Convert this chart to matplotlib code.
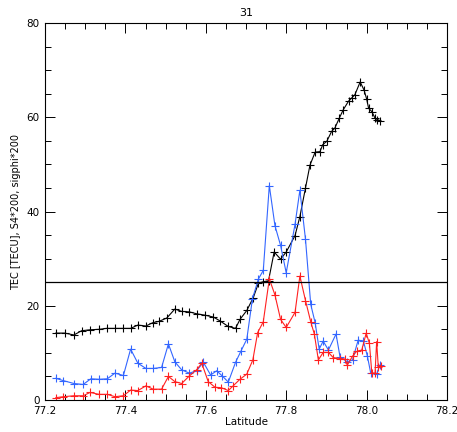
import numpy as np
import matplotlib.pyplot as plt
from matplotlib.ticker import MultipleLocator

# TEC (black)
lat_tec = [77.227, 77.249, 77.272, 77.291, 77.312, 77.335, 77.353, 77.374, 77.393, 77.413,
           77.431, 77.451, 77.468, 77.484, 77.503, 77.523, 77.540, 77.559, 77.577, 77.598,
           77.619, 77.635, 77.656, 77.674, 77.685, 77.702, 77.718, 77.731, 77.743, 77.756,
           77.770, 77.786, 77.800, 77.822, 77.834, 77.848, 77.859, 77.872, 77.884, 77.891,
           77.901, 77.913, 77.921, 77.932, 77.942, 77.955, 77.963, 77.971, 77.984, 77.994,
           78.000, 78.005, 78.013, 78.021, 78.027, 78.033]
tec = [14.2, 14.2, 13.8, 14.7, 14.9, 15.0, 15.2, 15.2, 15.2, 15.2,
       15.9, 15.7, 16.4, 16.7, 17.4, 19.3, 18.8, 18.7, 18.3, 18.0,
       17.6, 16.8, 15.6, 15.2, 17.1, 19.0, 21.7, 24.8, 25.1, 25.3,
       31.4, 29.9, 31.4, 34.9, 38.9, 45.0, 49.8, 52.6, 52.7, 54.2,
       54.9, 57.0, 57.7, 59.8, 61.6, 63.4, 64.1, 64.8, 67.5, 65.7,
       63.9, 61.9, 61.2, 59.8, 59.5, 59.3]

# S4*200 (blue)
lat_s4 = [77.227, 77.246, 77.272, 77.295, 77.314, 77.335, 77.355, 77.374, 77.395, 77.413,
          77.431, 77.451, 77.469, 77.490, 77.507, 77.523, 77.540, 77.559, 77.577, 77.594,
          77.612, 77.627, 77.641, 77.656, 77.674, 77.687, 77.702, 77.716, 77.731, 77.743,
          77.758, 77.772, 77.786, 77.800, 77.822, 77.834, 77.848, 77.861, 77.872, 77.882,
          77.892, 77.905, 77.924, 77.934, 77.952, 77.965, 77.979, 77.992, 78.002, 78.010,
          78.025, 78.033]
s4 = [4.6, 4.1, 3.5, 3.3, 4.5, 4.4, 4.5, 5.7, 5.2, 10.8,
      7.8, 6.7, 6.7, 6.9, 11.9, 8.1, 6.4, 5.7, 6.2, 8.0,
      5.3, 6.2, 5.1, 3.8, 8.0, 10.3, 12.9, 21.5, 25.7, 27.5,
      45.5, 37.0, 32.8, 27.0, 37.3, 44.5, 34.1, 20.3, 16.4, 10.8,
      12.5, 10.6, 14.0, 9.1, 8.1, 8.5, 12.7, 12.5, 9.3, 5.8,
      5.5, 7.4]

# sigphi*200 (red)
lat_sp = [77.227, 77.246, 77.272, 77.295, 77.312, 77.335, 77.355, 77.374, 77.395, 77.413,
          77.431, 77.451, 77.469, 77.490, 77.507, 77.523, 77.540, 77.559, 77.577, 77.590,
          77.606, 77.623, 77.639, 77.656, 77.668, 77.685, 77.702, 77.717, 77.729, 77.743,
          77.758, 77.772, 77.786, 77.800, 77.822, 77.834, 77.848, 77.861, 77.870, 77.880,
          77.892, 77.905, 77.917, 77.934, 77.946, 77.952, 77.965, 77.975, 77.988, 77.999,
          78.007, 78.013, 78.021, 78.025, 78.029, 78.035]
sigphi = [0.5, 0.7, 0.9, 0.9, 1.6, 1.2, 1.2, 0.7, 0.9, 2.1,
          2.0, 3.0, 2.3, 2.3, 5.0, 3.9, 3.5, 5.1, 6.4, 7.8,
          3.9, 2.7, 2.6, 2.0, 3.0, 4.4, 5.5, 8.5, 14.3, 16.6,
          25.7, 22.3, 17.1, 15.4, 18.6, 26.3, 21.1, 16.6, 14.0, 8.5,
          10.1, 10.1, 9.0, 8.8, 8.7, 7.4, 9.3, 10.3, 10.6, 14.2,
          12.0, 5.7, 5.7, 12.4, 7.1, 7.3]

threshold = 25

fig = plt.figure(figsize=(4.57, 4.32), dpi=100)
ax = fig.add_axes([45/457, 1 - 400/432, 402/457, 377/432])

ax.plot(lat_tec, tec, color='black', lw=0.8, marker='+', ms=6, mew=0.8)
ax.plot(lat_s4, s4, color='#3366ff', lw=0.8, marker='+', ms=6, mew=0.8)
ax.plot(lat_sp, sigphi, color='#ff2020', lw=0.8, marker='+', ms=6, mew=0.8)
ax.axhline(threshold, color='black', lw=0.9)

ax.set_xlim(77.2, 78.2)
ax.set_ylim(0, 80)
ax.xaxis.set_major_locator(MultipleLocator(0.2))
ax.xaxis.set_minor_locator(MultipleLocator(0.05))
ax.yaxis.set_major_locator(MultipleLocator(20))
ax.yaxis.set_minor_locator(MultipleLocator(5))
ax.xaxis.set_major_formatter(plt.FuncFormatter(lambda v, p: f'{v:.1f}'))
ax.tick_params(which='both', direction='in', top=True, right=True, labelsize=7.5, width=0.7)
ax.tick_params(which='major', length=7, pad=4)
ax.tick_params(which='minor', length=4)
for s in ax.spines.values():
    s.set_linewidth(0.8)

ax.set_xlabel('Latitude', fontsize=7.5, labelpad=1)
ax.set_ylabel('TEC [TECU], S4*200, sigphi*200', fontsize=7, labelpad=4)
ax.set_title('31', fontsize=8, pad=5)

fig.savefig('out.png', dpi=100)
